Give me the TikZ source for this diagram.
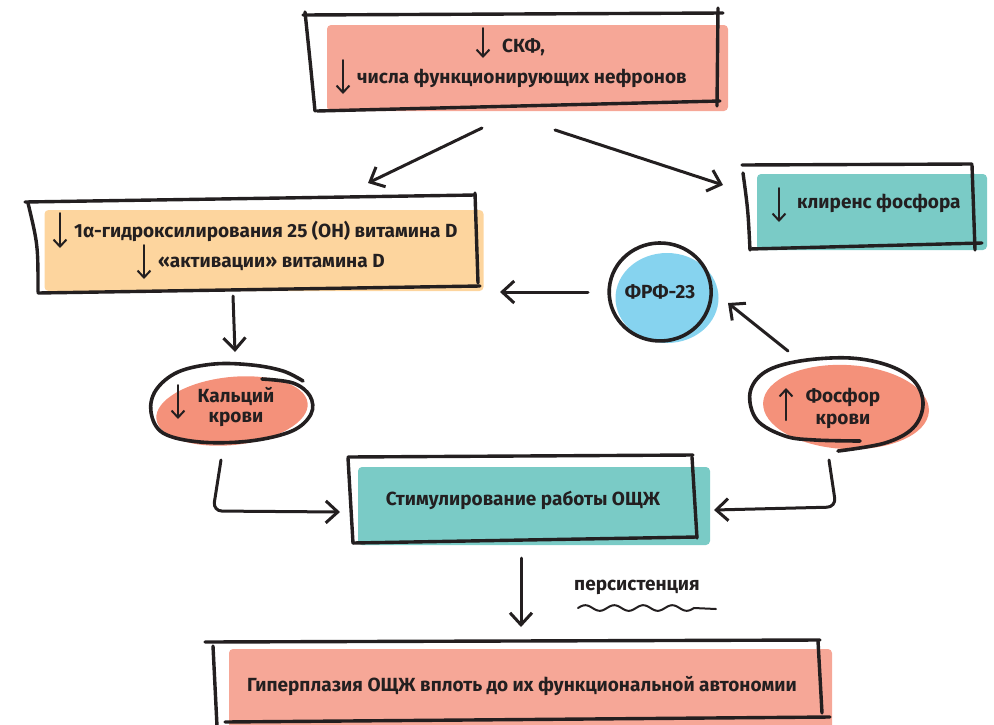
\documentclass[tikz,border=0pt]{standalone}
\usepackage{fontspec}
\setmainfont{Fira Sans}
\usetikzlibrary{arrows.meta,shapes.geometric}
\definecolor{ink}{HTML}{231F20}
\definecolor{pinkbox}{HTML}{F6A797}
\definecolor{peach}{HTML}{FDD59E}
\definecolor{tealbox}{HTML}{7ACBC6}
\definecolor{skyblue}{HTML}{86D3EF}
\definecolor{coral}{HTML}{F4917A}
\begin{document}
\begin{tikzpicture}[x=1pt,y=-1pt,
  box/.style={rounded corners=4pt, inner sep=0pt, draw=none},
  lbl/.style={font=\fontsize{19}{22}\selectfont\bfseries, text=ink, inner sep=0pt},
  frame/.style={draw=ink, line width=3.4pt, line cap=round},
  loop/.style={draw=ink, line width=3.6pt, line cap=round},
  conn/.style={draw=ink, line width=3pt, line cap=round, rounded corners=9pt,
    -{Straight Barb[length=12pt,width=22pt]}},
  tarrow/.style={draw=ink, line width=2pt, line cap=round,
    -{Straight Barb[length=7pt,width=13pt]}}
]
\useasboundingbox (0,0) rectangle (994,724);

% ---------- top box ----------
\node[box, fill=pinkbox, minimum width=401pt, minimum height=86pt] (top) at (527.5,68) {};
\draw[frame] (303,15) -- (723,13);
\draw[frame] (305,12) .. controls (310,60) .. (315,111);
\draw[frame] (317,111) -- (720,101);
\draw[frame] (718,8) -- (717,106);
\draw[tarrow] (483,28) -- (483,58);
\draw[tarrow] (343,60) -- (343,94);
\node[lbl, anchor=west] (t1) at (502,47) {СКФ,};
\node[lbl, anchor=west] (t2) at (357,78) {числа функционирующих нефронов};

% ---------- left box ----------
\node[box, fill=peach, minimum width=439pt, minimum height=81pt] (vitd) at (264,250.5) {};
\draw[frame] (25,202) -- (475,195);
\draw[frame] (28,203) .. controls (38,245) .. (38,292);
\draw[frame] (38,293) -- (480,286);
\draw[frame] (475,193) -- (478,283);
\draw[tarrow] (60,213) -- (60,248);
\draw[tarrow] (144,245) -- (144,279);
\node[lbl, anchor=west] (t3) at (74,231) {1α-гидроксилирования 25 (ОН) витамина D};
\node[lbl, anchor=west] (t4) at (158,262) {«активации» витамина D};

% ---------- right box ----------
\node[box, fill=tealbox, minimum width=230pt, minimum height=76pt] (clear) at (872,212) {};
\draw[frame] (742,165) -- (972,164);
\draw[frame] (743,173) .. controls (748,210) .. (750,250);
\draw[frame] (750,249) -- (982,243);
\draw[frame] (972,165) -- (975,250);
\draw[tarrow] (779,188) -- (779,222);
\node[lbl, anchor=west] (t5) at (797,203) {клиренс фосфора};

% ---------- FGF-23 ----------
\node[ellipse, fill=skyblue, minimum width=103pt, minimum height=90pt, inner sep=0pt] (fgf) at (667,298) {};
\draw[loop] (660,291) ++(100:50) arc[start angle=100, end angle=475, x radius=51, y radius=49];
\node[lbl] (t6) at (660,292) {ФРФ-23};

% ---------- calcium ----------
\node[ellipse, fill=coral, minimum width=152pt, minimum height=68pt, inner sep=0pt, rotate=6] (ca) at (232,411) {};
\draw[loop] plot[smooth, tension=0.6] coordinates {(262,379) (293,383) (310,396) (311,414) (292,431) (250,441) (200,442) (163,433) (151,412) (156,390) (178,372) (214,364) (252,365) (283,371) (303,381)};
\draw[tarrow] (178,385) -- (178,419);
\node[lbl] (t7) at (236,396) {Кальций};
\node[lbl] (t8) at (236,419) {крови};

% ---------- phosphorus ----------
\node[ellipse, fill=coral, minimum width=166pt, minimum height=84pt, inner sep=0pt, rotate=-3] (ph) at (846,407) {};
\draw[loop] plot[smooth, tension=0.6] coordinates {(860,441) (815,440) (785,436) (757,420) (750,393) (765,372) (800,361) (850,358) (890,366) (915,382) (923,405) (913,428) (885,443) (838,451)};
\draw[tarrow] (786,420) -- (786,388);
\node[lbl] (t9) at (843,397) {Фосфор};
\node[lbl] (t10) at (843,421) {крови};

% ---------- middle box ----------
\node[box, fill=tealbox, minimum width=352pt, minimum height=78pt] (pth) at (534,506) {};
\draw[frame] (348,457) -- (693,455);
\draw[frame] (348,458) -- (353,543);
\draw[frame] (353,543) -- (697,537);
\draw[frame] (692,457) -- (697,538);
\node[lbl] (t11) at (523,500) {Стимулирование работы ОЩЖ};

% ---------- bottom box ----------
\node[box, fill=pinkbox, minimum width=603pt, minimum height=80pt] (hyp) at (530.5,689) {};
\draw[frame] (205,642) -- (820,640);
\draw[frame] (213,646) -- (217,726);
\draw[frame] (818,641) -- (822,713);
\draw[frame] (225,722) -- (830,717);
\node[lbl] (t12) at (522,686) {Гиперплазия ОЩЖ вплоть до их функциональной автономии};

% ---------- persistence ----------
\node[lbl] (t13) at (637,587) {персистенция};
\draw[draw=ink, line width=2pt, line cap=round] plot[domain=0:116, samples=80, smooth] ({578+\x},{608-2.8*sin(\x*12.414)}) -- (716,609);

% ---------- connectors ----------
\coordinate (c1) at (482,128);
\coordinate (c1e) at (368,183);
\coordinate (c2) at (555,130);
\coordinate (c2e) at (723,185);
\coordinate (c3) at (233,296);
\coordinate (c3e) at (235,352);
\coordinate (c4) at (588,292);
\coordinate (c4e) at (500,292);
\coordinate (c5) at (788,351);
\coordinate (c5e) at (728,303);
\coordinate (c6) at (221,460);
\coordinate (c6m) at (213,511);
\coordinate (c6e) at (340,512);
\coordinate (c7) at (829,460);
\coordinate (c7m) at (836,507);
\coordinate (c7e) at (714,510);
\coordinate (c8) at (521,558);
\coordinate (c8e) at (521,627);
\draw[conn] (c1) -- (c1e);
\draw[conn] (c2) -- (c2e);
\draw[conn] (c3) -- (c3e);
\draw[conn] (c4) -- (c4e);
\draw[conn] (c5) -- (c5e);
\draw[conn] (c6) -- (c6m) -- (c6e);
\draw[conn] (c7) -- (c7m) -- (c7e);
\draw[conn] (c8) -- (c8e);
\end{tikzpicture}
\end{document}
